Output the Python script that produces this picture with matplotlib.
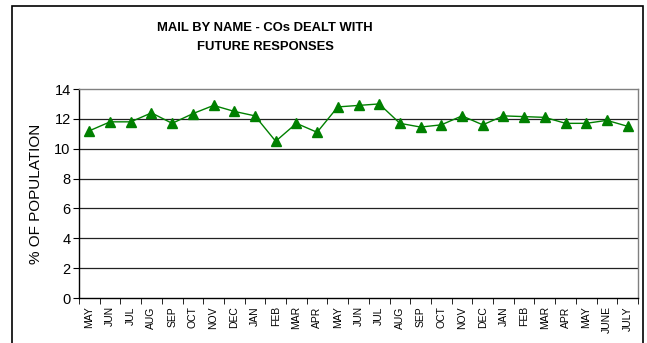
import matplotlib
matplotlib.use("Agg")
import matplotlib.pyplot as plt
from matplotlib.patches import Rectangle

months = ["MAY", "JUN", "JUL", "AUG", "SEP", "OCT", "NOV", "DEC", "JAN", "FEB", "MAR", "APR",
          "MAY", "JUN", "JUL", "AUG", "SEP", "OCT", "NOV", "DEC", "JAN", "FEB", "MAR", "APR",
          "MAY", "JUNE", "JULY"]
values = [11.2, 11.8, 11.8, 12.4, 11.7, 12.35, 12.9, 12.5, 12.2, 10.5, 11.7, 11.1,
          12.8, 12.9, 13.0, 11.7, 11.45, 11.6, 12.2, 11.6, 12.2, 12.15, 12.1, 11.7,
          11.7, 11.9, 11.5]
yticks = [0, 2, 4, 6, 8, 10, 12, 14]

plt.rcParams['font.family'] = ['Liberation Sans', 'DejaVu Sans']

fig = plt.figure(figsize=(6.47, 3.43), dpi=100)
fig.patches.append(Rectangle((12/647, -0.05), (643-12)/647, 1.05 - 6/343, transform=fig.transFigure,
                             fill=False, edgecolor='black', linewidth=1.2))

ax = fig.add_axes([79/647, 1 - 298/343, (638-79)/647, (298-89)/343])
x = list(range(len(months)))
ax.plot(x, values, color='#008000', linewidth=1, marker='^', markersize=6.5,
        markerfacecolor='#008000', markeredgecolor='#008000')

ax.set_xlim(-0.5, len(months) - 0.5)
ax.set_ylim(0, 14)
ax.set_yticks(yticks)
ax.set_yticklabels([str(t) for t in yticks], fontsize=10.5)
ax.set_xticks(x)
ax.set_xticklabels(months, rotation=90, fontsize=7.5)
ax.set_xticks([i - 0.5 for i in range(len(months) + 1)], minor=True)
ax.tick_params(axis='x', which='major', length=0, pad=6)
ax.tick_params(axis='x', which='minor', length=4, direction='out', color='black')
ax.tick_params(axis='y', length=4, direction='out', color='black', pad=2)

for t in yticks[1:-1]:
    ax.axhline(t, color='#222222', linewidth=0.9, zorder=0)

ax.spines['left'].set_color('black')
ax.spines['bottom'].set_color('black')
ax.spines['top'].set_color('#808080')
ax.spines['right'].set_color('#808080')
for s in ax.spines.values():
    s.set_linewidth(1)

ax.set_ylabel('% OF POPULATION', fontsize=11, labelpad=8)

fig.text(265/647, 1 - 28/343, 'MAIL BY NAME - COs DEALT WITH', ha='center', va='center',
         fontsize=9.4, fontweight='bold')
fig.text(265/647, 1 - 47/343, 'FUTURE RESPONSES', ha='center', va='center',
         fontsize=9.4, fontweight='bold')

fig.savefig('out.png', dpi=100)
